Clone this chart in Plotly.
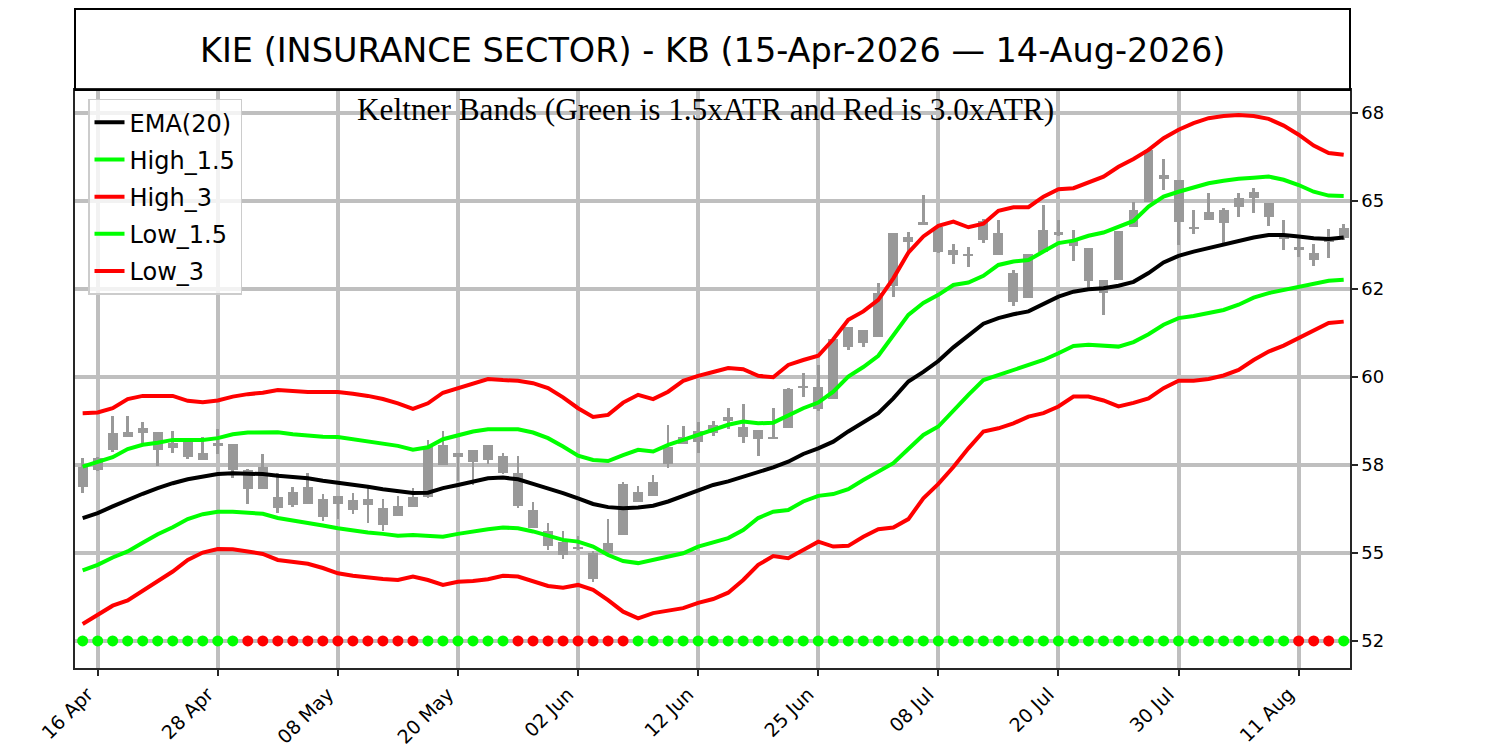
import pandas as pd
import plotly.graph_objects as go

# trading days 15-Apr-2026 .. 14-Aug-2026 (US market holidays removed)
days = pd.bdate_range('2026-04-15', '2026-08-14')
days = days.drop(pd.to_datetime(['2026-05-25', '2026-06-19', '2026-07-03']))
idx = list(range(len(days)))

opens = [56.87, 57.36, 57.91, 58.29, 58.42, 58.43, 58.13, 58.26, 57.83, 58.04,
         58.10, 57.36, 56.81, 56.58, 56.36, 56.39, 56.53, 56.39, 56.51, 56.36,
         56.27, 56.05, 56.30, 56.58, 57.50, 57.83, 57.93, 57.64, 57.76, 57.28,
         56.22, 55.61, 55.32, 55.13, 55.01, 55.01, 55.51, 56.46, 56.62, 57.53,
         58.10, 58.16, 58.40, 58.76, 58.59, 58.49, 58.30, 58.54, 59.68, 59.71,
         59.37, 60.84, 60.97, 61.14, 62.59, 63.82, 64.32, 64.27, 63.61, 63.49,
         63.89, 64.08, 62.96, 62.24, 63.56, 64.03, 63.89, 63.66, 62.76, 62.76,
         64.27, 64.98, 65.74, 65.60, 64.27, 64.46, 64.74, 64.84, 65.09, 64.93,
         63.99, 63.70, 63.51, 63.84, 63.94]
closes = [57.45, 57.69, 58.42, 58.43, 58.54, 57.93, 57.97, 57.72, 57.64, 58.13,
          57.36, 56.81, 57.43, 56.27, 56.73, 56.88, 56.03, 56.62, 56.22, 56.53,
          55.78, 56.32, 56.60, 58.00, 58.07, 57.72, 57.57, 58.07, 57.26, 56.32,
          55.70, 55.20, 54.94, 55.18, 54.25, 55.29, 56.95, 56.74, 57.00, 58.02,
          58.29, 58.45, 58.64, 58.86, 58.29, 58.23, 58.26, 59.66, 59.74, 59.08,
          61.07, 61.41, 61.34, 62.38, 64.08, 63.97, 64.39, 63.56, 63.47, 63.44,
          64.44, 63.47, 62.14, 63.49, 64.18, 64.13, 63.72, 62.71, 62.39, 64.15,
          64.74, 66.45, 65.63, 64.41, 64.20, 64.68, 64.37, 65.08, 65.25, 64.53,
          63.92, 63.61, 63.32, 63.94, 64.24]
highs = [57.69, 57.72, 58.89, 58.89, 58.71, 58.43, 58.47, 58.26, 58.29, 58.51,
         58.10, 57.38, 57.81, 57.26, 56.88, 57.26, 56.67, 56.62, 56.70, 56.84,
         56.53, 56.62, 56.84, 58.21, 58.45, 57.85, 57.93, 58.07, 57.83, 57.76,
         56.44, 55.84, 55.63, 55.48, 55.04, 55.97, 57.00, 56.90, 57.22, 58.64,
         58.61, 58.73, 58.76, 59.11, 59.23, 58.49, 59.11, 59.68, 60.12, 60.34,
         61.07, 61.41, 61.34, 62.66, 64.08, 64.13, 65.17, 64.32, 63.78, 63.68,
         64.48, 64.46, 63.04, 63.49, 64.89, 64.46, 64.18, 63.66, 62.76, 64.15,
         64.96, 66.50, 66.19, 65.60, 64.74, 65.22, 64.81, 65.22, 65.36, 64.93,
         64.46, 64.03, 63.77, 64.20, 64.34]
lows = [56.71, 57.34, 57.88, 58.28, 58.12, 57.48, 57.85, 57.66, 57.64, 57.80,
        57.12, 56.38, 56.81, 56.13, 56.31, 56.39, 55.91, 55.96, 56.10, 55.86,
        55.63, 56.05, 56.30, 56.55, 57.50, 57.03, 56.93, 57.53, 57.24, 56.27,
        55.70, 55.07, 54.82, 55.07, 54.18, 55.01, 55.51, 56.46, 56.62, 57.41,
        58.10, 57.83, 58.32, 58.51, 58.12, 57.74, 58.26, 58.54, 59.42, 59.04,
        59.37, 60.75, 60.86, 61.14, 62.26, 63.59, 64.32, 63.53, 63.21, 63.13,
        63.80, 63.47, 62.02, 62.24, 63.51, 63.99, 63.28, 62.52, 61.76, 62.76,
        64.27, 64.98, 65.31, 63.75, 64.05, 64.46, 63.80, 64.53, 64.65, 64.30,
        63.61, 63.42, 63.16, 63.37, 63.89]

ema20 = [55.99, 56.13, 56.32, 56.51, 56.68, 56.84, 56.98, 57.09, 57.17, 57.24,
         57.26, 57.26, 57.24, 57.19, 57.16, 57.12, 57.05, 57.00, 56.93, 56.88,
         56.81, 56.76, 56.70, 56.71, 56.84, 56.93, 57.03, 57.12, 57.14, 57.09,
         56.96, 56.84, 56.70, 56.55, 56.39, 56.30, 56.27, 56.29, 56.34, 56.46,
         56.62, 56.79, 56.93, 57.03, 57.17, 57.28, 57.43, 57.59, 57.81, 57.97,
         58.16, 58.45, 58.70, 58.97, 59.39, 59.87, 60.14, 60.45, 60.84, 61.19,
         61.51, 61.67, 61.78, 61.86, 62.07, 62.28, 62.42, 62.49, 62.52, 62.59,
         62.70, 62.95, 63.25, 63.44, 63.56, 63.66, 63.75, 63.84, 63.96, 64.03,
         64.03, 63.99, 63.94, 63.92, 63.96]
high_15 = [57.45, 57.59, 57.72, 57.95, 58.07, 58.13, 58.21, 58.21, 58.21, 58.26,
           58.37, 58.42, 58.43, 58.43, 58.37, 58.33, 58.30, 58.29, 58.23, 58.18,
           58.12, 58.04, 57.93, 58.00, 58.23, 58.35, 58.45, 58.51, 58.51, 58.51,
           58.42, 58.26, 58.02, 57.76, 57.64, 57.61, 57.78, 57.93, 57.88, 58.07,
           58.21, 58.35, 58.51, 58.64, 58.73, 58.68, 58.70, 58.92, 59.11, 59.27,
           59.58, 60.01, 60.28, 60.60, 61.19, 61.76, 62.10, 62.33, 62.61, 62.68,
           62.87, 63.18, 63.28, 63.32, 63.56, 63.80, 63.87, 64.01, 64.10, 64.25,
           64.43, 64.84, 65.12, 65.26, 65.38, 65.50, 65.57, 65.63, 65.66, 65.69,
           65.60, 65.45, 65.26, 65.15, 65.14]
high_3 = [58.97, 58.99, 59.11, 59.37, 59.46, 59.46, 59.46, 59.32, 59.28, 59.33,
          59.44, 59.51, 59.55, 59.63, 59.60, 59.57, 59.57, 59.57, 59.52, 59.46,
          59.37, 59.25, 59.09, 59.25, 59.55, 59.68, 59.82, 59.94, 59.91, 59.89,
          59.82, 59.68, 59.42, 59.11, 58.86, 58.92, 59.27, 59.49, 59.37, 59.58,
          59.89, 60.03, 60.14, 60.25, 60.22, 60.03, 59.99, 60.34, 60.48, 60.60,
          61.07, 61.62, 61.86, 62.19, 62.80, 63.53, 63.99, 64.29, 64.41, 64.25,
          64.35, 64.72, 64.82, 64.82, 65.12, 65.33, 65.36, 65.52, 65.69, 65.97,
          66.19, 66.45, 66.78, 67.02, 67.21, 67.35, 67.41, 67.44, 67.41, 67.33,
          67.14, 66.88, 66.57, 66.36, 66.31]
low_15 = [54.50, 54.66, 54.87, 55.04, 55.29, 55.53, 55.73, 55.96, 56.10, 56.17,
          56.17, 56.14, 56.11, 55.99, 55.92, 55.87, 55.78, 55.70, 55.63, 55.58,
          55.54, 55.49, 55.51, 55.49, 55.46, 55.54, 55.61, 55.67, 55.72, 55.70,
          55.61, 55.48, 55.37, 55.32, 55.18, 54.94, 54.77, 54.71, 54.80, 54.88,
          54.99, 55.18, 55.31, 55.42, 55.65, 55.99, 56.17, 56.22, 56.46, 56.62,
          56.67, 56.81, 57.07, 57.31, 57.55, 57.95, 58.35, 58.59, 59.06, 59.49,
          59.91, 60.06, 60.20, 60.34, 60.48, 60.67, 60.88, 60.91, 60.88, 60.86,
          60.99, 61.21, 61.48, 61.67, 61.73, 61.81, 61.90, 62.05, 62.25, 62.38,
          62.47, 62.57, 62.66, 62.73, 62.76]
low_3 = [52.98, 53.24, 53.50, 53.65, 53.92, 54.20, 54.47, 54.80, 55.01, 55.11,
         55.10, 55.04, 54.97, 54.80, 54.74, 54.69, 54.57, 54.42, 54.35, 54.30,
         54.26, 54.23, 54.33, 54.23, 54.09, 54.18, 54.20, 54.25, 54.35, 54.33,
         54.18, 54.06, 54.01, 54.09, 53.95, 53.66, 53.33, 53.14, 53.29, 53.36,
         53.43, 53.58, 53.69, 53.87, 54.23, 54.66, 54.91, 54.85, 55.09, 55.32,
         55.18, 55.20, 55.46, 55.67, 55.72, 55.96, 56.55, 56.96, 57.44, 57.97,
         58.45, 58.54, 58.68, 58.87, 58.97, 59.16, 59.44, 59.44, 59.33, 59.16,
         59.26, 59.39, 59.68, 59.89, 59.89, 59.94, 60.04, 60.20, 60.48, 60.72,
         60.89, 61.10, 61.34, 61.53, 61.57]

# squeeze flag per day: G = green dot, R = red dot
squeeze = 'G' * 11 + 'R' * 12 + 'G' * 6 + 'R' * 8 + 'G' * 44 + 'R' * 3 + 'G'
dot_level = 52.5

y_ticks = [52.5, 55.0, 57.5, 60.0, 62.5, 65.0, 67.5]
y_labels = ['52', '55', '58', '60', '62', '65', '68']
x_ticks = list(range(1, len(days), 8))
x_labels = [days[i].strftime('%d %b') for i in x_ticks]

candle_grey = '#999999'
grid_grey = '#bfbfbf'
axis_col = '#262626'

fig = go.Figure()

bands = [('EMA(20)', ema20, 'black'),
         ('High_1.5', high_15, '#00ff00'),
         ('High_3', high_3, '#ff0000'),
         ('Low_1.5', low_15, '#00ff00'),
         ('Low_3', low_3, '#ff0000')]
for name, vals, col in bands:
    fig.add_trace(go.Scatter(x=idx, y=vals, mode='lines', name=name, legendgroup=name,
                             line=dict(color=col, width=4)))

# candles (same grey for up and down days)
body_lo = [min(o, c) for o, c in zip(opens, closes)]
body_h = [abs(c - o) for o, c in zip(opens, closes)]
fig.add_trace(go.Bar(x=idx, y=[h - l for h, l in zip(highs, lows)], base=lows, width=0.18,
                     marker=dict(color=candle_grey, line_width=0), showlegend=False))
fig.add_trace(go.Bar(x=idx, y=body_h, base=body_lo, width=0.66,
                     marker=dict(color=candle_grey, line_width=0), showlegend=False))

fig.add_trace(go.Scatter(x=idx, y=[dot_level] * len(idx), mode='markers', showlegend=False,
                         marker=dict(size=11, color=['#00ff00' if s == 'G' else '#ff0000' for s in squeeze])))

# title box above the plot
fig.add_shape(type='rect', xref='paper', yref='paper', x0=0, x1=1, y0=1, y1=1.1401,
              line=dict(color='black', width=2), fillcolor='rgba(0,0,0,0)')
fig.add_annotation(xref='paper', yref='paper', x=0.5, y=1.0692, showarrow=False,
                   text='KIE (INSURANCE SECTOR) - KB (15-Apr-2026 \u2014 14-Aug-2026)',
                   font=dict(family='DejaVu Sans', size=33.5, color='black'),
                   xanchor='center', yanchor='middle')
fig.add_annotation(xref='paper', yref='paper', x=0.4949, y=0.967, showarrow=False,
                   text='Keltner Bands (Green is 1.5xATR and Red is 3.0xATR)',
                   font=dict(family='Liberation Serif', size=31.3, color='black'),
                   xanchor='center', yanchor='middle')

fig.update_layout(
    width=1500, height=750,
    margin=dict(l=75, r=150, t=90, b=82),
    plot_bgcolor='white', paper_bgcolor='white',
    barmode='overlay', bargap=0,
    font=dict(family='DejaVu Sans', color='black'),
    legend=dict(x=0.0102, y=0.985, xanchor='left', yanchor='top',
                bgcolor='rgba(255,255,255,0.8)', bordercolor='#cccccc', borderwidth=1.5,
                font=dict(size=24), tracegroupgap=3, itemwidth=30),
)
fig.update_xaxes(range=[-0.51, 84.42], tickvals=x_ticks, ticktext=x_labels, tickangle=-45,
                 showgrid=True, gridcolor=grid_grey, gridwidth=3.5, zeroline=False,
                 showline=True, mirror=True, linecolor=axis_col, linewidth=1.5,
                 ticks='outside', ticklen=6, tickwidth=1.5, tickcolor=axis_col,
                 tickfont=dict(size=19), ticklabelshift=-10, automargin=False)
fig.update_yaxes(range=[51.73, 68.15], side='right', tickvals=y_ticks, ticktext=y_labels,
                 showgrid=True, gridcolor=grid_grey, gridwidth=3.5, zeroline=False,
                 showline=True, mirror=True, linecolor=axis_col, linewidth=1.5,
                 ticks='outside', ticklen=6, tickwidth=1.5, tickcolor=axis_col,
                 tickfont=dict(size=18), automargin=False)

# drop the browser's default body margin so the 1500x750 figure fills the window
fig.write_html('out.html', config={'displayModeBar': False},
               post_script="document.body.style.margin = '0px';")
